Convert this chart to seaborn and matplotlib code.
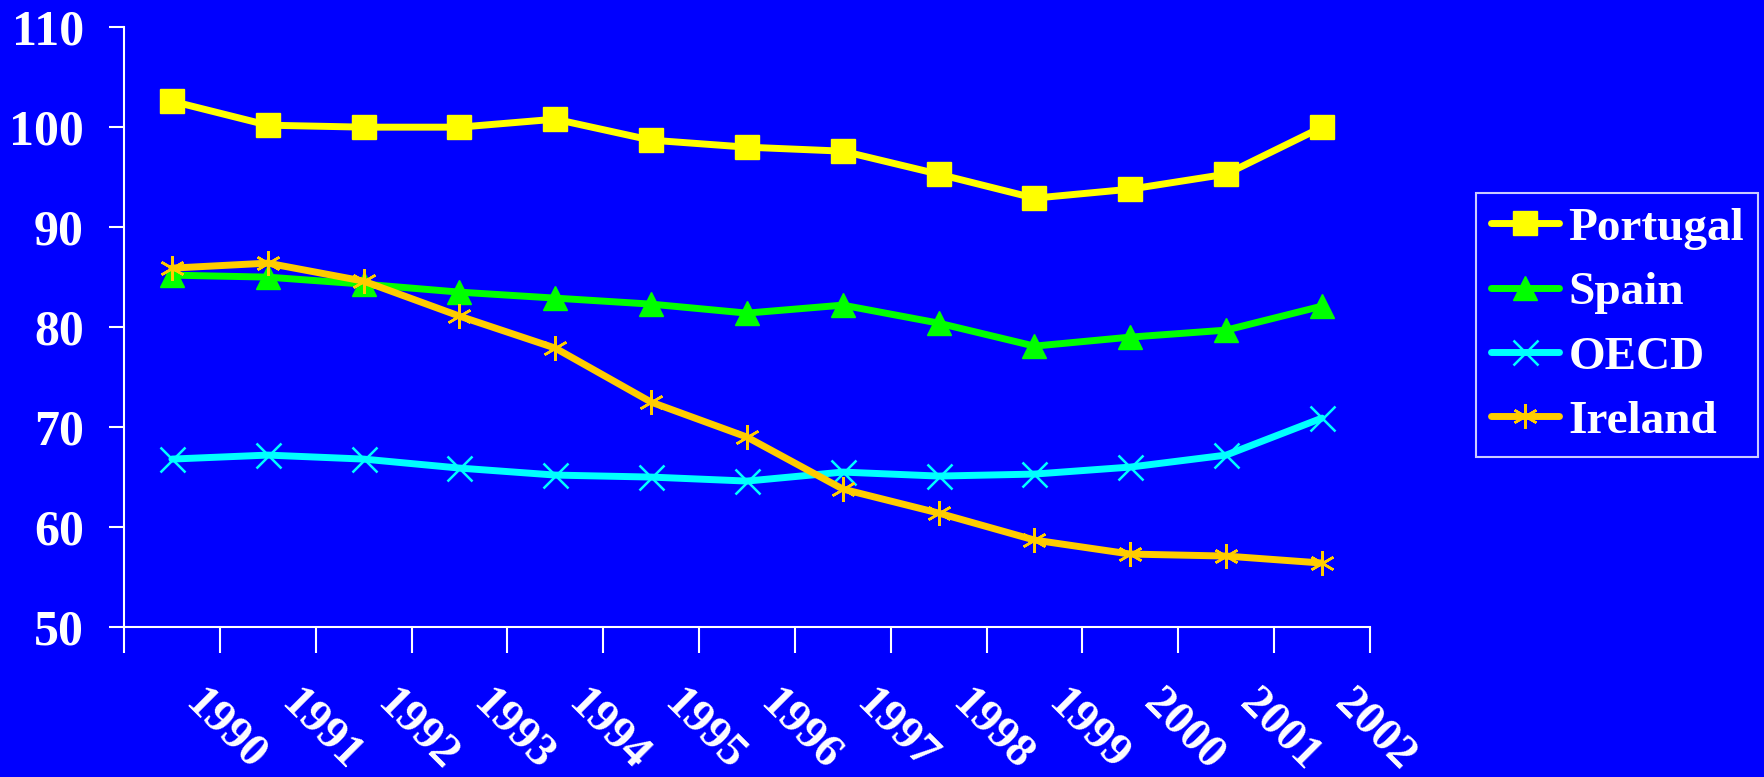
import numpy as np
import pandas as pd
import seaborn as sns
import matplotlib.pyplot as plt
from matplotlib.lines import Line2D
from matplotlib.transforms import ScaledTranslation

# data
years = ['1990', '1991', '1992', '1993', '1994', '1995', '1996',
         '1997', '1998', '1999', '2000', '2001', '2002']
portugal = [102.6, 100.2, 100.0, 100.0, 100.8, 98.7, 98.0, 97.6, 95.3, 92.9, 93.8, 95.3, 100.0]
spain = [85.2, 85.0, 84.3, 83.5, 82.9, 82.3, 81.4, 82.2, 80.4, 78.1, 79.0, 79.7, 82.1]
oecd = [66.8, 67.2, 66.8, 65.9, 65.2, 65.0, 64.6, 65.5, 65.1, 65.3, 66.0, 67.2, 70.9]
ireland = [85.9, 86.4, 84.6, 81.1, 77.9, 72.5, 69.0, 63.8, 61.4, 58.7, 57.3, 57.1, 56.4]
countries = ['Portugal', 'Spain', 'OECD', 'Ireland']
yticks = [50, 60, 70, 80, 90, 100, 110]

# long-form table
df = pd.DataFrame({
    'idx': list(range(len(years))) * 4,
    'value': portugal + spain + oecd + ireland,
    'Country': np.repeat(countries, len(years)),
})

bg = '#0000FF'
colors = {'Portugal': '#FFFF00', 'Spain': '#00FF00', 'OECD': '#00FFFF', 'Ireland': '#FFCC00'}
markers = {'Portugal': 's', 'Spain': '^', 'OECD': 'x', 'Ireland': (6, 2, 0)}
msizes = {'Portugal': 17, 'Spain': 17, 'OECD': 18, 'Ireland': 18}
mew = {'Portugal': 1, 'Spain': 1, 'OECD': 1.8, 'Ireland': 1.8}

sns.set_style('white')
plt.rcParams['font.family'] = ['Liberation Serif', 'DejaVu Serif']
plt.rcParams['font.weight'] = 'bold'

fig = plt.figure(figsize=(17.64, 7.77), dpi=100, facecolor=bg)
ax = fig.add_axes([0.0703, 0.193, 0.7063, 0.772])
ax.set_facecolor(bg)

handles = []
for c in countries:
    sub = df[df['Country'] == c]
    sns.lineplot(data=sub, x='idx', y='value', ax=ax, color=colors[c], lw=5,
                 marker=markers[c], markersize=msizes[c], markeredgecolor=colors[c],
                 markeredgewidth=mew[c], markerfacecolor=colors[c], label=c)
    handles.append(Line2D([], [], color=colors[c], lw=5, marker=markers[c],
                          markersize=msizes[c], markeredgecolor=colors[c],
                          markeredgewidth=mew[c], markerfacecolor=colors[c]))
ax.get_legend().remove()

ax.set_xlim(-0.5, len(years) - 0.5)
ax.set_ylim(50, 110)
ax.set_yticks(yticks)
ax.set_yticklabels([str(v) for v in yticks], fontsize=36, color='white', fontweight='bold')
ax.set_xticks(range(len(years)))
ax.set_xticklabels(years, fontsize=34, color='white', fontweight='bold',
                   rotation=-45, ha='left', va='top', rotation_mode='anchor')
ax.set_xticks(np.arange(-0.5, len(years)), minor=True)
ax.tick_params(axis='x', which='major', bottom=True, length=0, pad=40)
ax.tick_params(axis='x', which='minor', bottom=True, length=19, width=1.5, color='white', direction='out')
ax.tick_params(axis='y', left=True, length=11, width=1.5, color='white', direction='out', pad=18)
ax.set_xlabel('')
ax.set_ylabel('')

# nudge the slanted year labels to the right
for lab in ax.get_xticklabels():
    lab.set_transform(lab.get_transform() + ScaledTranslation(0.34, 0, fig.dpi_scale_trans))

for s in ['top', 'right']:
    ax.spines[s].set_visible(False)
for s in ['left', 'bottom']:
    ax.spines[s].set_color('white')
    ax.spines[s].set_linewidth(1.5)

leg = fig.legend(handles, countries, loc='upper left', bbox_to_anchor=(0.837, 0.752),
                 borderaxespad=0, frameon=True, fancybox=False, facecolor=bg, edgecolor='white',
                 prop={'family': 'Liberation Serif', 'weight': 'bold', 'size': 34},
                 handlelength=1.45, labelspacing=0.45, borderpad=0.3, handletextpad=0.2)
for t in leg.get_texts():
    t.set_color('white')
leg.get_frame().set_linewidth(1.5)

plt.savefig('out.png', dpi=100, facecolor=bg)
